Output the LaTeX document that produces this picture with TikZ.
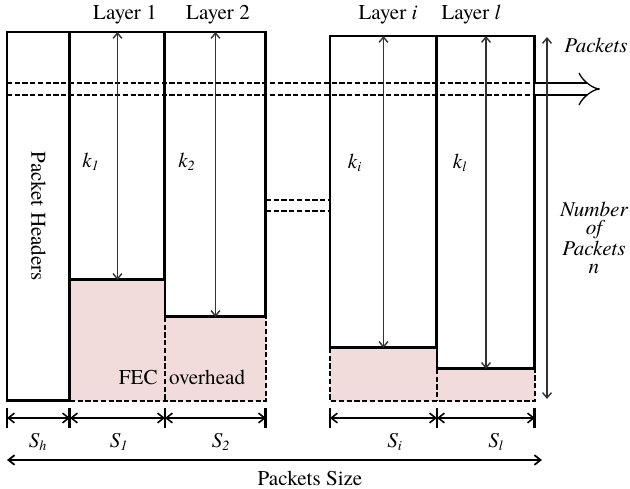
\documentclass[tikz,border=0pt]{standalone}
\usepackage{fontspec}
\IfFontExistsTF{TeX Gyre Termes}
  {\setmainfont{TeX Gyre Termes}}
  {\setmainfont{Liberation Serif}}
\usetikzlibrary{arrows.meta, backgrounds}
\definecolor{fecPink}{RGB}{242,220,219}
\definecolor{arrowInk}{RGB}{50,50,50}

\begin{document}
\begin{tikzpicture}[x=0.02cm, y=-0.02cm,
    every node/.style={font=\rmfamily\fontsize{12}{14}\selectfont, inner sep=0pt},
    layerbox/.style={draw, line width=1.7pt, anchor=north west, inner sep=0pt, outer sep=0pt},
    fecfill/.style={fill=fecPink},
    fecline/.style={line width=1.1pt, dash pattern=on 3pt off 1.4pt},
    karrow/.style={{Straight Barb[length=3pt,width=5pt]}-{Straight Barb[length=3pt,width=5pt]}, line width=0.8pt, draw=arrowInk},
    dimarrow/.style={{Straight Barb[length=3.5pt,width=5.5pt]}-{Straight Barb[length=3.5pt,width=5.5pt]}, line width=0.9pt},
    dimtick/.style={line width=1.7pt},
    flowarrow/.style={double, double distance=6pt, line width=0.75pt, -{Implies}},
    sym/.style={font=\rmfamily\fontsize{12}{14}\selectfont\itshape},
  ]
  \useasboundingbox (0,0) rectangle (630,489);

  % header column and the layer columns
  \node[layerbox, minimum width=12.6mm, minimum height=73.8mm] (hdr) at (7,32) {};
  \node[layerbox, minimum width=19mm, minimum height=49.6mm] (lay1) at (70,32) {};
  \node[layerbox, minimum width=20.2mm, minimum height=57mm] (lay2) at (165,32) {};
  \node[layerbox, minimum width=21.4mm, minimum height=62.4mm] (layi) at (330,36) {};
  \node[layerbox, minimum width=19.6mm, minimum height=66.6mm] (layl) at (437,36) {};
  \node[rotate=-90] (hdrname) at (hdr) {Packet Headers};

  % FEC overhead under each layer
  \begin{scope}[on background layer]
    \fill[fecfill] (lay1.south west) rectangle (lay1.east |- hdr.south);
    \fill[fecfill] (lay2.south west) rectangle (lay2.east |- hdr.south);
    \fill[fecfill] (layi.south west) rectangle (layi.east |- hdr.south);
    \fill[fecfill] (layl.south west) rectangle (layl.east |- hdr.south);
  \end{scope}
  \draw[fecline] (lay1.south west |- hdr.south) -- (lay2.south east |- hdr.south) -- (lay2.south east);
  \draw[fecline] (lay2.south west) -- (lay2.south west |- hdr.south);
  \draw[fecline] (layi.south west) -- (layi.south west |- hdr.south) -- (layl.south east |- hdr.south) -- (layl.south east);
  \draw[fecline] (layl.south west) -- (layl.south west |- hdr.south);
  \node (fecname) at (182,377) {FEC\hspace{0.55em}overhead};

  % one packet running across all columns
  \coordinate (flowA) at (0,83);
  \coordinate (flowB) at (0,95);
  \coordinate (flowEnd) at (600,89);
  \draw[fecline] (hdr.west |- flowA) -- (layl.east |- flowA);
  \draw[fecline] (hdr.west |- flowB) -- (layl.east |- flowB);
  \draw[flowarrow] (layl.east |- flowEnd) -- (flowEnd);

  % skipped layers
  \coordinate (gapA) at (0,200);
  \coordinate (gapB) at (0,211);
  \draw[fecline] (lay2.east |- gapA) -- (layi.west |- gapA);
  \draw[fecline] (lay2.east |- gapB) -- (layi.west |- gapB);

  % source packets per layer
  \draw[karrow] (lay1.north) -- (lay1.south);
  \draw[karrow] (lay2.north) -- (lay2.south);
  \draw[karrow] (layi.north) -- (layi.south);
  \draw[karrow] (layl.north) -- (layl.south);
  \node[sym] (k1) at (91,162) {k\textsubscript{1}};
  \node[sym] (k2) at (187,162) {k\textsubscript{2}};
  \node[sym] (ki) at (355,163) {k\textsubscript{i}};
  \node[sym] (kl) at (460,163) {k\textsubscript{l}};

  \node (name1) at (125,15) {Layer 1};
  \node (name2) at (218,15) {Layer 2};
  \node (namei) at (388,15) {Layer \textit{i}};
  \node (namel) at (471,15) {Layer \textit{l}};

  % number of packets n
  \coordinate (nTop) at (547,37);
  \coordinate (nBot) at (547,399);
  \draw[karrow] (nTop) -- (nBot);
  \node[sym] (pkts) at (596,45) {Packets};
  \node[sym, align=center, font=\rmfamily\fontsize{12}{10.5}\selectfont\itshape] (npk) at (594,238) {Number\\of\\Packets\\n};

  % packet sizes
  \coordinate (dimrow) at (0,418);
  \foreach \edge in {hdr.west, hdr.east, lay2.west, lay2.east, layi.west, layl.west, layl.east}
    \draw[dimtick] (\edge |- dimrow) ++(0,-10) -- ++(0,20);
  \draw[dimarrow] (hdr.west |- dimrow) -- (hdr.east |- dimrow);
  \draw[dimarrow] (lay1.west |- dimrow) -- (lay1.east |- dimrow);
  \draw[dimarrow] (lay2.west |- dimrow) -- (lay2.east |- dimrow);
  \draw[dimarrow] (layi.west |- dimrow) -- (layi.east |- dimrow);
  \draw[dimarrow] (layl.west |- dimrow) -- (layl.east |- dimrow);
  \node[sym] (sh) at (38,442) {S\textsubscript{h}};
  \node[sym] (s1) at (119,442) {S\textsubscript{1}};
  \node[sym] (s2) at (221,442) {S\textsubscript{2}};
  \node[sym] (si) at (395,442) {S\textsubscript{i}};
  \node[sym] (sl) at (496,442) {S\textsubscript{l}};

  \coordinate (sizeL) at (7,460);
  \coordinate (sizeR) at (542,460);
  \draw[dimarrow, line width=1pt] (sizeL) -- (sizeR);
  \node (sizename) at (310,478) {Packets Size};
\end{tikzpicture}
\end{document}
